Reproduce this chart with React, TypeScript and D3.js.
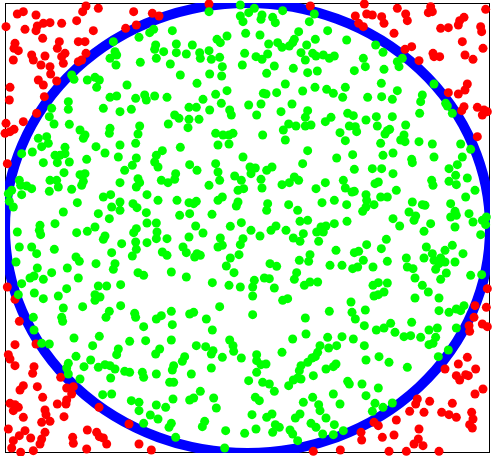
import React from "react";
import * as d3 from "d3";

// Sample coordinates (sample space, y grows downward)
const xExtent: [number, number] = [15, 1470];
const yExtent: [number, number] = [9, 1359];

const outsidePoints: [number, number][] = [
  [52,42],[70,35],[108,45],[18,80],[75,88],[112,78],[130,70],[150,68],[108,92],[185,70],[230,62],[258,18],[248,35],[295,25],[280,92],[128,115],[45,130],[42,145],[55,152],[178,125],[172,145],[195,160],[185,170],[235,125],[255,125],[95,165],[100,180],[135,168],[40,180],[258,160],[123,195],[150,200],[152,222],[190,190],[235,185],[245,180],[115,240],[130,255],[170,243],[30,262],[28,300],[133,290],[110,340],[70,365],[18,370],[15,400],[30,395],[42,388],
  [401,35],[457,40],[477,48],[377,85],[409,75],[627,12],
  [931,18],[1093,12],[1066,48],[1100,42],[1076,70],[1090,80],
  [1192,25],[1292,20],[1285,38],[1297,35],[1117,45],[1145,50],[1152,70],[1217,42],[1222,62],[1379,62],[1392,52],[1375,75],[1457,28],[1322,85],[1345,83],[1442,80],[1445,95],[1182,100],[1387,125],[1449,145],[1235,140],[1215,148],[1299,160],[1302,170],[1319,170],[1395,165],[1419,178],[1257,182],[1402,252],[1395,270],[1375,282],[1345,278],[1392,320],[1385,332],[1432,322],[1452,330],[1447,345],[1462,335],[1432,410],
  [22,491],[22,861],[45,898],
  [1462,866],
  [58,964],[45,1034],[108,1032],[25,1064],[30,1077],[45,1097],[102,1100],[98,1120],[70,1157],[60,1170],[112,1160],[182,1132],[200,1164],[220,1160],[215,1182],[128,1192],[30,1210],[45,1214],[55,1222],[40,1232],[200,1200],[198,1212],[172,1212],[135,1230],[138,1244],[70,1252],[192,1250],[125,1267],[150,1264],[297,1222],[25,1287],[75,1292],[135,1297],[125,1317],[120,1332],[262,1290],[290,1297],[298,1310],[310,1314],[320,1332],[40,1322],[35,1344],[58,1307],[92,1314],[218,1312],[220,1330],[62,1357],[100,1352],[260,1347],
  [387,1272],[417,1332],[454,1350],
  [1083,1297],[1085,1320],[940,1354],[1021,1350],
  [1425,917],[1459,922],[1422,952],[1407,977],[1409,994],[1447,972],[1462,980],[1402,1072],[1375,1092],[1335,1107],[1427,1107],[1369,1127],[1379,1140],[1397,1124],[1405,1127],[1449,1167],[1425,1182],[1252,1197],[1247,1212],[1289,1204],[1357,1210],[1229,1234],[1272,1237],[1325,1237],[1347,1244],[1369,1252],[1415,1237],[1419,1257],[1409,1274],[1417,1284],[1189,1260],[1122,1267],[1135,1277],[1257,1287],[1147,1312],[1182,1305],[1255,1317],[1242,1332],[1269,1337],[1317,1354],[1219,1354],[1167,1354]
];

const insidePoints: [number, number][] = [
  [340,125],[345,155],[330,175],[350,165],[348,195],[215,225],[222,238],[262,240],[285,232],[298,240],[290,262],[330,292],[350,288],[205,305],[205,328],[155,325],[310,325],[360,335],[148,350],[162,372],[208,373],[240,390],[255,405],[250,415],[330,385],[328,400],[115,415],[125,440],[140,410],[145,430],[195,442],[288,440],[360,435],
  [627,35],[721,15],[721,48],[729,65],[417,112],[449,98],[461,88],[517,92],[737,100],[467,135],[464,148],[529,132],[529,158],[577,135],[491,155],[559,162],[599,158],[601,175],[627,152],[634,178],[659,172],[651,118],[661,128],[681,108],[469,175],[421,187],[511,192],[667,200],[734,160],[727,195],[541,225],[591,250],[629,222],[665,228],[381,255],[681,272],[407,295],[434,285],[439,300],[464,288],[501,292],[609,298],[647,283],[664,310],[394,328],[567,322],[589,322],[629,330],[689,330],[694,345],[524,345],[537,355],[567,358],[597,358],[419,378],[505,372],[564,383],[414,402],[647,400],[669,405],[687,405],[699,400],[407,430],[654,435],[687,432],[487,452],[541,442],
  [763,25],[746,38],[786,45],[783,58],[818,52],[826,68],[848,32],[943,42],[928,65],[780,105],[896,95],[983,92],[1040,120],[806,132],[833,128],[846,142],[868,138],[883,118],[878,128],[920,135],[946,118],[903,158],[916,180],[938,160],[948,168],[970,165],[988,175],[1003,168],[768,170],[786,178],[803,162],[823,198],[880,205],[923,218],[952,213],[800,220],[1063,212],[1090,175],[1096,200],[856,252],[790,280],[798,282],[830,278],[908,273],[945,262],[980,268],[1000,280],[1036,262],[1028,292],[1103,292],[746,315],[783,312],[876,312],[770,345],[843,335],[923,332],[916,352],[993,352],[976,365],[1043,340],[1060,347],[1098,360],[866,372],[888,378],[850,390],[916,378],[933,375],[1048,378],[1066,380],[1070,395],[1020,398],[788,405],[856,420],[1036,422],[923,452],
  [1127,135],[1149,157],[1207,175],[1192,185],[1197,200],[1152,208],[1144,250],[1302,252],[1192,272],[1145,290],[1177,298],[1267,285],[1262,305],[1337,310],[1342,318],[1259,340],[1357,340],[1129,350],[1177,350],[1132,378],[1217,375],[1162,392],[1155,402],[1169,388],[1212,405],[1202,420],[1215,425],[1257,425],[1297,432],[1382,432],[1142,430],[1412,448],
  [65,461],[97,456],[130,488],[165,466],[180,466],[195,461],[172,488],[208,486],[260,478],[315,459],[355,471],[192,518],[240,524],[255,521],[245,556],[250,544],[150,541],[170,541],[175,561],[148,574],[215,568],[58,541],[62,556],[80,558],[95,566],[35,571],[25,581],[65,584],[28,604],[40,621],[360,548],[310,591],[332,584],[335,621],[360,606],[360,631],[232,608],[190,636],[295,641],[328,656],[120,676],[118,691],[122,704],[165,671],[52,696],[230,698],[262,694],[285,681],[310,718],[315,708],[365,731],[58,741],[95,741],[110,761],[163,748],[228,771],[238,784],[335,758],[48,786],[288,791],[345,791],[340,808],[112,804],[202,804],[155,818],[90,834],[102,828],[130,838],[235,834],[65,851],[200,866],[295,858],[320,858],[103,879],[55,884],[130,896],[175,888],[285,884],[300,891],[285,901],[362,854],
  [409,474],[397,496],[374,511],[469,466],[464,486],[474,501],[569,494],[591,511],[647,491],[654,516],[729,471],[527,521],[524,538],[504,548],[484,541],[414,536],[419,548],[409,561],[627,556],[659,541],[704,528],[724,541],[441,584],[474,601],[531,601],[567,608],[589,604],[581,611],[654,601],[667,591],[714,571],[731,566],[714,606],[709,618],[399,611],[411,623],[439,638],[539,646],[569,641],[636,643],[441,669],[469,669],[409,686],[401,698],[471,696],[469,716],[501,716],[587,678],[609,699],[567,711],[691,679],[724,668],[729,716],[407,726],[441,728],[661,714],[667,736],[654,741],[721,734],[549,741],[559,758],[487,756],[501,766],[584,771],[591,761],[601,766],[409,748],[397,768],[717,764],[691,774],[679,798],[414,818],[431,826],[514,816],[559,831],[702,818],[637,848],[687,856],[721,861],
  [1010,474],[1058,464],[750,501],[766,504],[753,521],[800,511],[816,501],[908,491],[1063,508],[783,538],[786,564],[846,554],[868,548],[883,531],[896,541],[948,566],[976,548],[1030,541],[1036,564],[1056,576],[1063,574],[1098,584],[1100,601],[803,611],[800,631],[866,614],[893,631],[966,608],[1003,601],[1040,614],[1088,634],[1098,621],[753,691],[780,708],[813,691],[828,678],[858,691],[900,664],[923,661],[880,714],[900,724],[910,701],[950,696],[963,681],[978,678],[970,696],[1003,671],[1041,664],[956,724],[1008,751],[1063,758],[1076,754],[1100,734],[930,764],[926,784],[898,781],[810,791],[830,799],[990,796],[1026,796],[1058,806],[1073,801],[1090,781],[890,818],[883,838],[793,834],[808,836],[763,841],[758,861],[823,864],[913,856],[930,846],[953,846],[758,888],[848,901],[863,896],[1053,906],
  [1149,466],[1179,459],[1235,478],[1237,488],[1302,471],[1387,471],[1117,506],[1145,506],[1179,521],[1347,506],[1372,494],[1367,526],[1369,554],[1347,544],[1402,534],[1295,541],[1299,556],[1125,551],[1135,546],[1189,571],[1425,571],[1142,591],[1162,591],[1122,614],[1237,606],[1267,614],[1275,616],[1352,611],[1397,591],[1227,636],[1247,648],[1242,661],[1179,656],[1199,678],[1292,671],[1272,694],[1365,634],[1352,651],[1369,646],[1407,641],[1419,666],[1447,661],[1459,651],[1457,674],[1365,681],[1442,704],[1159,718],[1144,746],[1279,741],[1357,736],[1335,751],[1389,761],[1272,774],[1297,761],[1302,781],[1322,774],[1335,786],[1317,791],[1219,774],[1162,784],[1365,786],[1222,801],[1239,806],[1119,801],[1307,808],[1412,826],[1445,824],[1339,819],[1245,834],[1322,838],[1119,856],[1135,848],[1162,849],[1267,856],[1152,876],[1122,888],[1135,884],[1285,876],[1245,894],[1317,894],
  [190,924],[185,952],[188,964],[248,920],[328,934],[318,952],[362,917],[100,952],[102,990],[125,1030],[148,1032],[222,1014],[298,1009],[278,1037],[355,1047],[350,1064],[228,1069],[205,1090],[200,1104],[272,1080],[252,1100],[295,1102],[315,1094],[330,1097],[345,1107],[205,1122],[240,1137],[332,1134],[308,1184],[335,1182],
  [404,940],[407,952],[431,980],[469,957],[484,947],[514,934],[517,974],[569,942],[581,937],[619,957],[637,990],[659,920],[389,1024],[437,1022],[514,1020],[479,1047],[467,1062],[589,1037],[617,1040],[639,1052],[634,1062],[689,1020],[699,1037],[701,1054],[724,1074],[667,1072],[554,1070],[547,1084],[521,1097],[517,1110],[374,1114],[389,1117],[427,1117],[431,1132],[469,1122],[574,1122],[634,1104],[509,1147],[521,1147],[601,1174],[394,1202],[417,1207],[417,1232],[469,1215],[497,1222],[519,1197],[569,1200],[581,1194],[641,1194],[649,1224],[451,1245],[474,1257],[431,1270],[514,1270],[507,1282],[614,1264],[607,1280],[677,1292],[734,1300],[527,1312],[674,1344],
  [758,944],[988,934],[1056,937],[1066,957],[1096,930],[916,954],[1093,977],[878,1017],[918,1002],[983,1012],[1026,1010],[1060,1017],[960,1037],[953,1057],[946,1070],[936,1074],[986,1044],[1010,1037],[1093,1037],[846,1057],[770,1064],[770,1082],[783,1094],[798,1092],[1098,1080],[923,1087],[903,1097],[898,1112],[893,1134],[880,1140],[903,1137],[1008,1092],[1000,1100],[978,1107],[770,1117],[940,1127],[746,1142],[788,1147],[808,1152],[823,1174],[866,1157],[1043,1144],[1048,1152],[1086,1152],[1000,1182],[1098,1187],[766,1192],[778,1202],[910,1207],[938,1192],[1020,1212],[956,1214],[960,1232],[900,1242],[886,1254],[816,1242],[800,1252],[756,1244],[978,1254],[933,1270],[826,1274],[838,1282],[818,1297],[870,1290],[878,1302],[948,1282],[1003,1274],[1030,1292],[768,1287],[968,1302],[1000,1304],[893,1322],
  [1317,932],[1347,937],[1369,927],[1392,917],[1382,932],[1235,967],[1172,970],[1152,984],[1129,990],[1185,997],[1212,1010],[1232,1007],[1262,1012],[1287,990],[1312,984],[1307,1012],[1299,1030],[1287,1034],[1369,984],[1345,1050],[1137,1070],[1315,1070],[1167,1087],[1222,1102],[1135,1164],[1125,1210],[1177,1209],[1149,1222],[1117,1234]
];

const W = 492;
const H = 456;

export default function App() {
  const x = d3.scaleLinear().domain(xExtent).range([5, 490]);
  const y = d3.scaleLinear().domain(yExtent).range([3, 453]);
  const cxData = (xExtent[0] + xExtent[1]) / 2;
  const cyData = (yExtent[0] + yExtent[1]) / 2;
  const cx = x(cxData);
  const cy = y(cyData);
  const rx = x(xExtent[1]) - cx;
  const ry = y(yExtent[1]) - cy;
  const r = 4.5;
  return (
    <svg
      width={W}
      height={H}
      style={{ position: "absolute", left: 0, top: 0, background: "#fff" }}
    >
      <defs>
        <clipPath id="frame">
          <rect x={x(xExtent[0])} y={y(yExtent[0])} width={x(xExtent[1]) - x(xExtent[0])} height={y(yExtent[1]) - y(yExtent[0])} />
        </clipPath>
      </defs>
      <rect x={5.5} y={3.5} width={484} height={449} fill="none" stroke="#000" strokeWidth={1} />
      <ellipse cx={cx} cy={cy} rx={rx} ry={ry} fill="none" stroke="#0000ff" strokeWidth={10} clipPath="url(#frame)" />
      <g>
        {outsidePoints.map((p, i) => (
          <circle key={"o" + i} cx={x(p[0])} cy={y(p[1])} r={r} fill="#ff0000" />
        ))}
      </g>
      <g>
        {insidePoints.map((p, i) => (
          <circle key={"i" + i} cx={x(p[0])} cy={y(p[1])} r={r} fill="#00ff00" />
        ))}
      </g>
    </svg>
  );
}
